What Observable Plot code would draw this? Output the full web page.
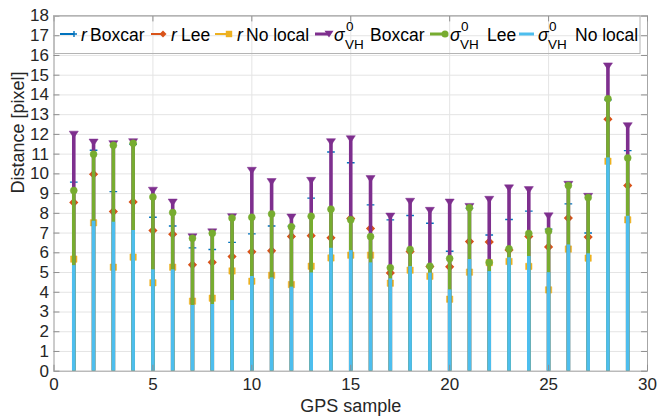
<!DOCTYPE html>
<html><head><meta charset="utf-8">
<script src="https://cdn.jsdelivr.net/npm/d3@7"></script>
<script src="https://cdn.jsdelivr.net/npm/@observablehq/plot@0.6"></script>
<style>
body{margin:0;background:#fff;}
#chart{position:relative;width:657px;height:420px;}
</style></head><body><div id="chart"></div>
<script>
// ---- data ----
const samples = [1,2,3,4,5,6,7,8,9,10,11,12,13,14,15,16,17,18,19,20,21,22,23,24,25,26,27,28,29];
const rBoxcar  = [9.58,11.2,9.1,11.5,7.8,7.36,6.25,6.17,6.53,6.96,7.36,7.35,8.77,11.11,10.56,8.43,7.67,7.89,7.5,6.08,8.25,6.9,7.69,8.11,7.2,8.48,7.0,13.75,11.18];
const rLee     = [8.55,9.98,8.09,8.58,7.13,6.94,5.39,5.52,5.81,6.05,6.1,6.83,6.87,6.76,7.74,7.23,4.98,6.06,5.3,5.29,6.57,6.55,6.14,6.83,6.3,7.76,6.8,12.77,9.41];
const rNoLocal = [5.68,7.52,5.27,5.78,4.48,5.27,3.55,3.7,5.08,4.56,4.86,4.39,5.32,5.74,5.88,5.88,4.46,5.12,4.81,3.65,5.02,5.5,5.56,5.31,4.12,6.19,5.73,10.64,7.67];
const sBoxcar  = [12.0,11.6,11.52,11.62,9.16,8.56,6.8,7.05,7.82,10.17,9.6,7.8,9.66,11.62,11.77,9.75,7.85,8.6,8.14,8.56,8.34,8.7,9.28,9.19,7.86,9.46,8.85,15.46,12.43];
const sLee     = [9.16,11.0,11.45,11.55,8.83,8.04,6.74,6.99,7.76,7.8,7.97,7.32,7.85,8.21,7.67,6.82,5.24,6.17,5.32,5.71,8.28,5.51,6.2,6.98,7.1,9.41,8.8,13.81,10.81];
const sNoLocal = [5.35,7.6,7.55,7.13,5.14,5.14,3.33,3.38,3.58,4.8,4.73,4.26,4.98,6.23,6.11,5.49,4.68,5.3,4.97,4.12,5.66,5.05,5.75,5.81,4.99,6.4,5.95,10.81,7.85];
const xTicks = [0,5,10,15,20,25,30];
const yTicks = [0,1,2,3,4,5,6,7,8,9,10,11,12,13,14,15,16,17,18];
const xLabel = "GPS sample";
const yLabel = "Distance [pixel]";

const C = {blue:"#0072BD", orange:"#D95319", yellow:"#EDB120", purple:"#7E2F8E", green:"#77AC30", cyan:"#4DBEEE"};
const FONT = "'Liberation Sans', Arial, Helvetica, sans-serif";

const triDown = {draw(ctx, size){ const r = Math.sqrt(size/Math.PI);
  ctx.moveTo(-1.2*r,-0.85*r); ctx.lineTo(1.2*r,-0.85*r); ctx.lineTo(0,0.95*r); ctx.closePath(); }};

const series = [
  {vals:rBoxcar,  color:C.blue,   w:2,   dot:{symbol:"plus", r:2.6, fill:"none", stroke:C.blue, strokeWidth:1.4}},
  {vals:rLee,     color:C.orange, w:2,   dot:{symbol:"diamond2", r:3.2, fill:C.orange, stroke:C.orange}},
  {vals:rNoLocal, color:C.yellow, w:2,   dot:{symbol:"square", r:3.6, fill:C.yellow, stroke:C.yellow, strokeWidth:0.5}},
  {vals:sBoxcar,  color:C.purple, w:3.6, dot:{symbol:triDown, r:3.8, fill:C.purple, stroke:C.purple, strokeWidth:0.5}},
  {vals:sLee,     color:C.green,  w:3.6, dot:{symbol:"circle", r:3.5, fill:C.green, stroke:C.green, strokeWidth:0.5}},
  {vals:sNoLocal, color:C.cyan,   w:3.6, dot:null}
];
const rows = vals => samples.map((s,i)=>({sample:s, value:vals[i]}));

const marks = [
  Plot.ruleY(yTicks, {y:d=>d, stroke:"#e4e4e4", strokeWidth:1}),
  Plot.ruleX(xTicks, {x:d=>d, stroke:"#e4e4e4", strokeWidth:1})
];
for (const s of series) {
  marks.push(Plot.ruleX(rows(s.vals), {x:"sample", y1:0, y2:"value", stroke:s.color, strokeWidth:s.w}));
  if (s.dot) marks.push(Plot.dot(rows(s.vals), {x:"sample", y:"value", ...s.dot}));
}
const tickCol = "#8f8f8f";
marks.push(
  Plot.frame({stroke:"#a6a6a6", strokeWidth:1}),
  Plot.ruleY(yTicks, {y:d=>d, x1:0, x2:0.3, stroke:tickCol}),
  Plot.ruleY(yTicks, {y:d=>d, x1:29.7, x2:30, stroke:tickCol}),
  Plot.ruleX(xTicks, {x:d=>d, y1:0, y2:0.3, stroke:tickCol}),
  Plot.ruleX(xTicks, {x:d=>d, y1:17.7, y2:18, stroke:tickCol}),
  Plot.text([xLabel], {text:d=>d, frameAnchor:"bottom", dy:40.5, fontSize:18, fill:"#262626"}),
  Plot.text([yLabel], {text:d=>d, frameAnchor:"left", dx:-36, rotate:-90, fontSize:18, fill:"#262626"})
);

const chart = Plot.plot({
  width:657, height:420,
  marginLeft:53.5, marginRight:10, marginTop:15.5, marginBottom:49.3,
  style:{fontFamily:FONT, fontSize:"17px", color:"#262626", background:"#fff"},
  x:{domain:[0,30], ticks:xTicks, tickSize:0, tickPadding:7, label:null},
  y:{domain:[0,18], ticks:yTicks, tickSize:0, tickPadding:5, label:null},
  marks
});
document.getElementById("chart").appendChild(chart);

// ---- legend (north, inside axes) ----
const svg = d3.select(chart);
const lg = svg.append("g").attr("font-family", FONT).attr("font-size", 17.5)
  .attr("fill", "#000").attr("text-anchor", "start").style("text-anchor", "start");
lg.append("rect").attr("x",54).attr("y",15.5).attr("width",586).attr("height",38)
  .attr("fill","none").attr("stroke","#b4b4b4").attr("stroke-width",1);
const LY = 34, BASE = 41;
function icon(x1, x2, color, w, kind){
  lg.append("line").attr("x1",x1).attr("x2",x2).attr("y1",LY).attr("y2",LY).attr("stroke",color).attr("stroke-width",w);
  const g = lg.append("g").attr("transform",`translate(${x2},${LY})`);
  if (kind==="plus") g.append("path").attr("d","M-3,0H3M0,-3V3").attr("stroke",color).attr("stroke-width",1.4);
  if (kind==="diamond") g.append("path").attr("d","M-3.5,0L0,-3.5L3.5,0L0,3.5Z").attr("fill",color);
  if (kind==="square") g.append("rect").attr("x",-3.2).attr("y",-3.2).attr("width",6.4).attr("height",6.4).attr("fill",color);
  if (kind==="tri") g.append("path").attr("d","M-4.5,-3.2L4.5,-3.2L0,3.6Z").attr("fill",color);
  if (kind==="circle") g.append("circle").attr("r",3.5).attr("fill",color);
}
function rLabel(xr, xt, word){
  const t = lg.append("text").attr("y",BASE).attr("text-anchor","start");
  t.append("tspan").attr("x",xr).attr("font-style","italic").text("r");
  t.append("tspan").attr("x",xt).text(word);
}
function sLabel(xs, xsup, xsub, xt, word){
  const t = lg.append("text").attr("y",BASE).attr("text-anchor","start");
  t.append("tspan").attr("x",xs).attr("y",BASE).attr("font-style","italic").text("σ");
  t.append("tspan").attr("x",xsup).attr("y",31).attr("font-size",13.5).text("0");
  t.append("tspan").attr("x",xsub).attr("y",48.5).attr("font-size",13.5).text("VH");
  t.append("tspan").attr("x",xt).attr("y",BASE).text(word);
}
icon(60,74,C.blue,2,"plus");        rLabel(81,90,"Boxcar");
icon(151,163,C.orange,2,"diamond"); rLabel(171,181,"Lee");
icon(215,229,C.yellow,2,"square");  rLabel(237,246,"No local");
icon(315,329,C.purple,3,"tri");     sLabel(334,346,345,370,"Boxcar");
icon(430,445,C.green,3,"circle");   sLabel(450,461,460,487,"Lee");
icon(519,534,C.cyan,3,null);        sLabel(538,549,548,575,"No local");
</script></body></html>
